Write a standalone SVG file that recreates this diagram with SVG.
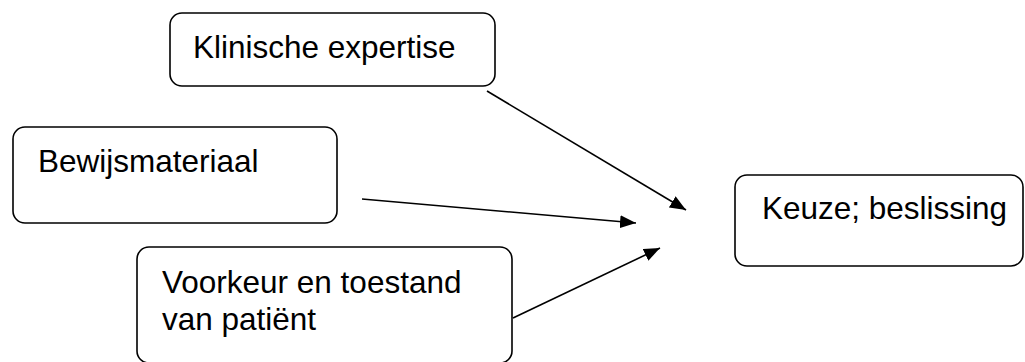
<svg xmlns="http://www.w3.org/2000/svg" width="1025" height="362" viewBox="0 0 1025 362">
  <style>
    .box { fill: #ffffff; stroke: #000000; stroke-width: 1.6; }
    .label { font-family: "Liberation Sans", Arial, sans-serif; font-size: 31.5px; fill: #000000; }
    .link { stroke: #000000; stroke-width: 1.6; fill: none; marker-end: url(#head); }
  </style>
  <defs>
    <marker id="head" viewBox="0 0 16 13" refX="16" refY="6.5" markerWidth="16" markerHeight="13" markerUnits="userSpaceOnUse" orient="auto">
      <path d="M0,0 L16,6.5 L0,13 Z" fill="#000000"/>
    </marker>
  </defs>
  <rect width="1025" height="362" fill="#ffffff"/>

  <g id="klinische-expertise">
    <rect class="box" x="170" y="13" width="325" height="73" rx="12" ry="12"/>
    <text class="label" x="193" y="58">Klinische expertise</text>
  </g>

  <g id="bewijsmateriaal">
    <rect class="box" x="13" y="127" width="324" height="96" rx="12" ry="12"/>
    <text class="label" x="38" y="172">Bewijsmateriaal</text>
  </g>

  <g id="voorkeur-patient">
    <rect class="box" x="137" y="247" width="375" height="116" rx="12" ry="12"/>
    <text class="label" x="162" y="293">Voorkeur en toestand</text>
    <text class="label" x="162" y="330">van patiënt</text>
  </g>

  <g id="keuze-beslissing">
    <rect class="box" x="735" y="175" width="288" height="91" rx="12" ry="12"/>
    <text class="label" x="762" y="219">Keuze; beslissing</text>
  </g>

  <g id="connectors">
    <line class="link" x1="487" y1="91" x2="686" y2="210"/>
    <line class="link" x1="362" y1="199" x2="636" y2="223"/>
    <line class="link" x1="513" y1="318" x2="660" y2="248"/>
  </g>
</svg>
